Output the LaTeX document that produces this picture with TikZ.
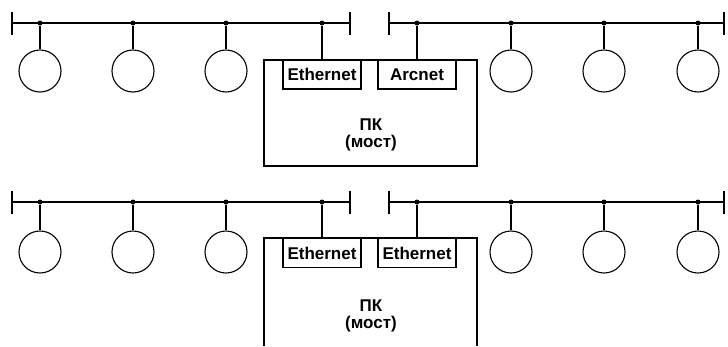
\documentclass[tikz,border=0pt]{standalone}
\usepackage{fontspec}
\setmainfont{Liberation Sans}
\usetikzlibrary{positioning}

\tikzset{
    bus/.style={line width=1.3pt},
    stem/.style={line width=1.2pt},
    term/.style={rectangle, fill, inner sep=0pt, minimum width=2.2pt, minimum height=23pt},
    tap/.style={circle, fill, inner sep=0pt, minimum size=5pt},
    station/.style={circle, draw, line width=1.1pt, inner sep=0pt, minimum size=42pt},
    card/.style={draw, line width=1.1pt, inner sep=0pt, minimum width=78pt, minimum height=29pt,
        font=\bfseries\fontsize{17}{17}\selectfont},
    pclabel/.style={align=center, font=\bfseries\fontsize{17}{17}\selectfont}
}

\begin{document}
\begin{tikzpicture}[x=1pt,y=-1pt]
    \useasboundingbox (0,0) rectangle (728,346);

    % upper pair: Ethernet -- Arcnet
    \node[term] (ual) at (12,23) {};
    \node[term] (uar) at (350,23) {};
    \node[term] (ubl) at (389,23) {};
    \node[term] (ubr) at (724,23) {};
    \draw[bus] (ual) -- (uar);
    \draw[bus] (ubl) -- (ubr);
    \foreach \x [count=\i] in {40,133,226,322}
        \node[tap] (uta\i) at (\x,23) {};
    \foreach \x [count=\i] in {417,511,604,698}
        \node[tap] (utb\i) at (\x,23) {};
    \foreach \x [count=\i] in {40,133,226}
        \node[station] (usa\i) at (\x,71) {};
    \foreach \x [count=\i] in {511,604,698}
        \node[station] (usb\i) at (\x,71) {};
    \foreach \i in {1,2,3}
        \draw[stem] (uta\i) -- (usa\i);
    \draw[stem] (utb2) -- (usb1);
    \draw[stem] (utb3) -- (usb2);
    \draw[stem] (utb4) -- (usb3);
    \draw[line width=1.1pt] (264,60) rectangle (477,166);
    \node[card] (ueth) at (322,74.5) {Ethernet};
    \node[card] (uarc) at (417,74.5) {Arcnet};
    \draw[stem] (uta4) -- (ueth);
    \draw[stem] (utb1) -- (uarc);
    \node[pclabel] (upc) at (371,135) {ПК\\(мост)};

    % lower pair: Ethernet -- Ethernet
    \node[term] (lal) at (12,202) {};
    \node[term] (lar) at (350,202) {};
    \node[term] (lbl) at (389,202) {};
    \node[term] (lbr) at (724,202) {};
    \draw[bus] (lal) -- (lar);
    \draw[bus] (lbl) -- (lbr);
    \foreach \x [count=\i] in {40,133,226,322}
        \node[tap] (lta\i) at (\x,202) {};
    \foreach \x [count=\i] in {417,511,604,698}
        \node[tap] (ltb\i) at (\x,202) {};
    \foreach \x [count=\i] in {40,133,226}
        \node[station] (lsa\i) at (\x,252) {};
    \foreach \x [count=\i] in {511,604,698}
        \node[station] (lsb\i) at (\x,252) {};
    \foreach \i in {1,2,3}
        \draw[stem] (lta\i) -- (lsa\i);
    \draw[stem] (ltb2) -- (lsb1);
    \draw[stem] (ltb3) -- (lsb2);
    \draw[stem] (ltb4) -- (lsb3);
    \draw[line width=1.1pt] (264,346) -- (264,238) -- (477,238) -- (477,346);
    \node[card] (leth) at (322,253) {Ethernet};
    \node[card] (leth2) at (417,253) {Ethernet};
    \draw[stem] (lta4) -- (leth);
    \draw[stem] (ltb1) -- (leth2);
    \node[pclabel] (lpc) at (371,316) {ПК\\(мост)};
\end{tikzpicture}
\end{document}
